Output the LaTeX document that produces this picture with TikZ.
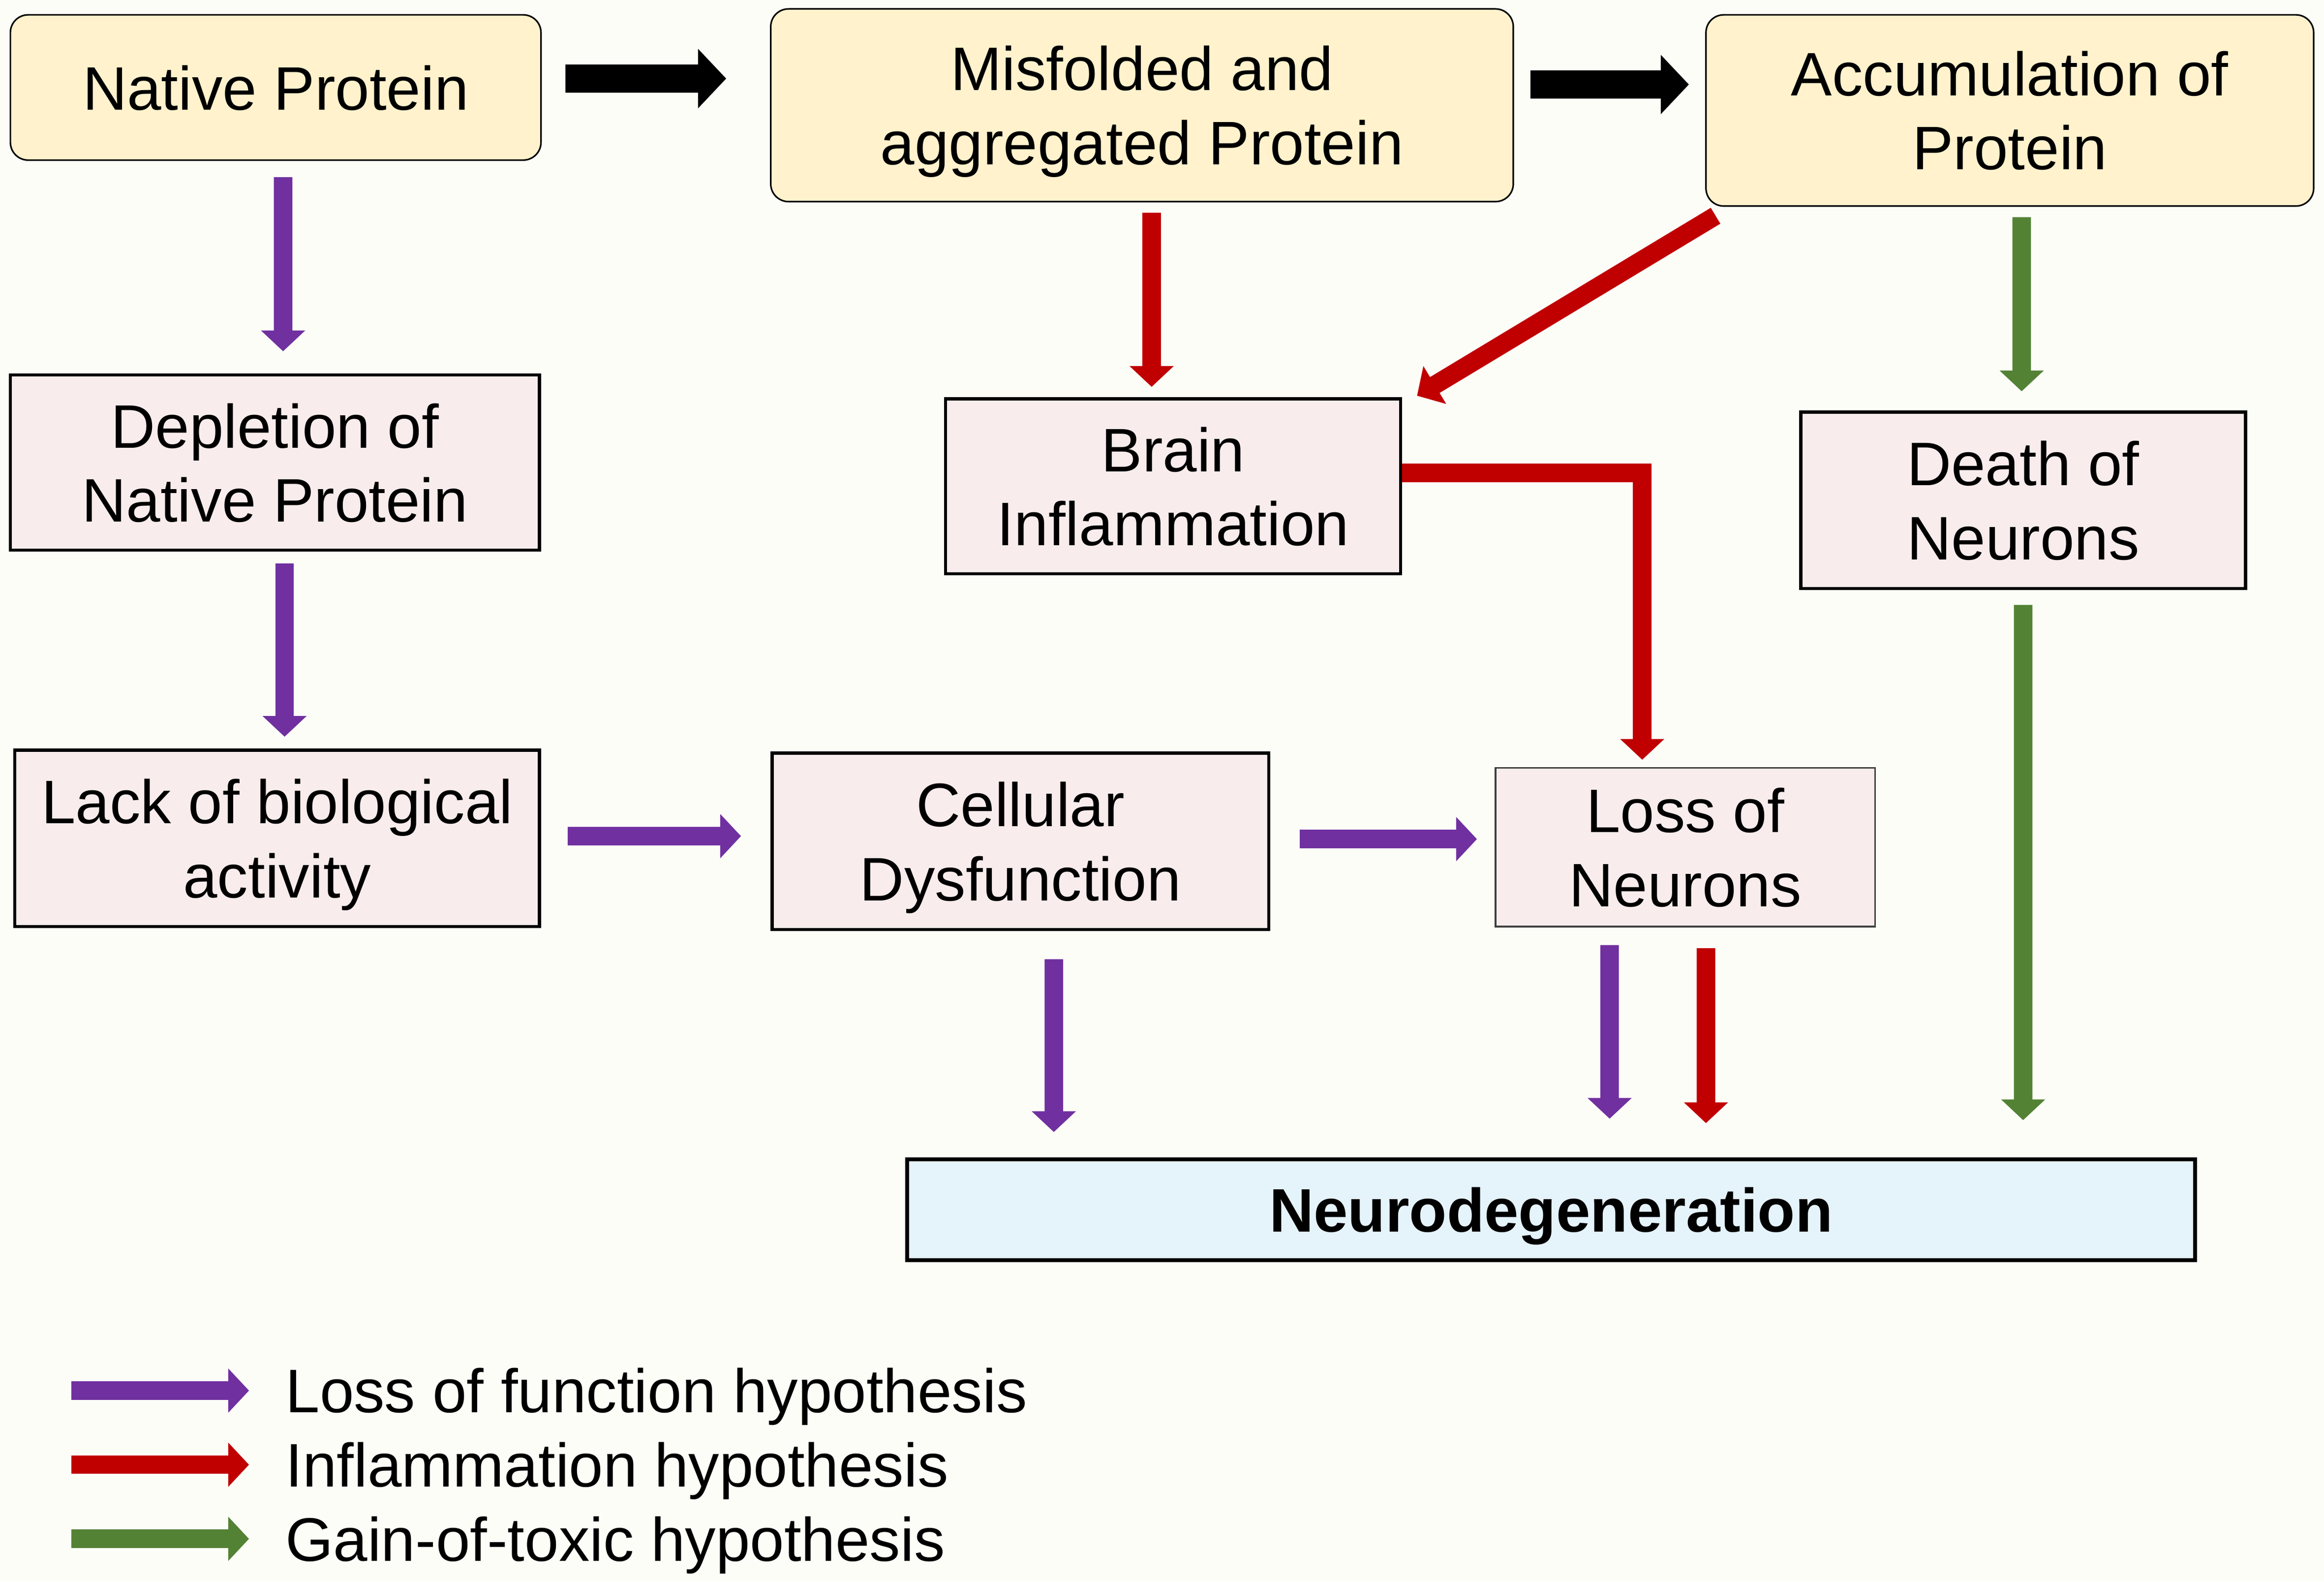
\documentclass[tikz,border=0pt]{standalone}
\usepackage{fontspec}
\setmainfont{Liberation Sans}
\usetikzlibrary{arrows.meta}
\definecolor{bgcol}{HTML}{FDFDF8}
\definecolor{creamcol}{HTML}{FFF2CC}
\definecolor{pinkcol}{HTML}{F9ECEC}
\definecolor{bluecol}{HTML}{E5F3FB}
\definecolor{lossfncol}{HTML}{7030A0}
\definecolor{inflamcol}{HTML}{C00000}
\definecolor{toxiccol}{HTML}{548235}

\begin{document}
\begin{tikzpicture}[>={Triangle[width=0.29cm,length=0.14cm]},
		every node/.style={font=\fontsize{11.8}{14.2}\selectfont, align=center, inner sep=0pt, text depth=0pt},
		protein/.style={draw, line width=0.3pt, fill=creamcol, rounded corners=0.12cm},
		effect/.style={draw, line width=0.6pt, fill=pinkcol},
		main arrow/.style={-{Triangle[width=0.39cm,length=0.19cm]}, black, line width=0.19cm},
		lossfn arrow/.style={->, lossfncol, line width=0.125cm},
		inflam arrow/.style={->, inflamcol, line width=0.125cm},
		toxic arrow/.style={->, toxiccol, line width=0.125cm},
		legend/.style={anchor=west, text height=8.45pt, text depth=0pt}]

				\fill[bgcol] (0,0) rectangle (15.68,-10.668);
				\useasboundingbox (0,0) rectangle (15.68,-10.668);

				% protein states
				\node[protein, minimum width=3.58cm, minimum height=0.98cm] (native)
					at (1.86,-0.59) {Native Protein};
				\node[protein, minimum width=5.01cm, minimum height=1.30cm] (misfolded)
					at (7.705,-0.71) {Misfolded and\\aggregated Protein};
				\node[protein, minimum width=4.10cm, minimum height=1.29cm] (accum)
					at (13.56,-0.745) {Accumulation of\\Protein};

				% consequences
				\node[effect, minimum width=3.57cm, minimum height=1.18cm] (depletion)
					at (1.855,-3.12) {Depletion of\\Native Protein};
				\node[effect, minimum width=3.07cm, minimum height=1.18cm] (brain)
					at (7.915,-3.28) {Brain\\Inflammation};
				\node[effect, minimum width=3.00cm, minimum height=1.19cm] (death)
					at (13.65,-3.375) {Death of\\Neurons};
				\node[effect, minimum width=3.54cm, minimum height=1.19cm] (lack)
					at (1.87,-5.655) {Lack of biological\\activity};
				\node[effect, minimum width=3.35cm, minimum height=1.19cm] (cellular)
					at (6.885,-5.675) {Cellular\\Dysfunction};
				\node[effect, draw=black!75, line width=0.3pt, minimum width=2.56cm, minimum height=1.07cm] (loss)
					at (11.37,-5.715) {Loss of\\Neurons};
				\node[draw, line width=0.8pt, fill=bluecol, minimum width=8.69cm, minimum height=0.68cm,
					font=\fontsize{11.8}{14.2}\selectfont\bfseries] (neuro)
					at (10.465,-8.16) {Neurodegeneration};

				% black arrows
				\draw[main arrow] ([xshift=0.16cm,yshift=0.06cm]native.east)
						-- ([xshift=-0.295cm,yshift=0.18cm]misfolded.west);
				\draw[main arrow] ([xshift=0.11cm,yshift=0.14cm]misfolded.east)
						-- ([xshift=-0.11cm,yshift=0.175cm]accum.west);

				% loss of function
				\draw[lossfn arrow] ([xshift=0.05cm,yshift=-0.11cm]native.south)
						-- ([xshift=0.055cm,yshift=0.15cm]depletion.north);
				\draw[lossfn arrow] ([xshift=0.065cm,yshift=-0.08cm]depletion.south)
						-- ([xshift=0.05cm,yshift=0.08cm]lack.north);
				\draw[lossfn arrow] ([xshift=0.18cm,yshift=0.015cm]lack.east)
						-- ([xshift=-0.20cm,yshift=0.035cm]cellular.west);
				\draw[lossfn arrow] ([xshift=0.20cm,yshift=0.015cm]cellular.east)
						-- ([xshift=-0.12cm,yshift=0.055cm]loss.west);
				\draw[lossfn arrow] ([xshift=0.225cm,yshift=-0.19cm]cellular.south)
						-- ([xshift=-3.355cm,yshift=0.17cm]neuro.north);
				\draw[lossfn arrow] ([xshift=-0.51cm,yshift=-0.12cm]loss.south)
						-- ([xshift=0.395cm,yshift=0.26cm]neuro.north);

				% inflammation
				\draw[inflam arrow] ([xshift=0.065cm,yshift=-0.07cm]misfolded.south)
						-- ([xshift=-0.145cm,yshift=0.07cm]brain.north);
				\draw[inflam arrow] ([xshift=0.07cm,yshift=-0.06cm]accum.south west)
						-- ([xshift=0.10cm,yshift=0.01cm]brain.north east);
				\draw[inflam arrow] ([yshift=0.09cm]brain.east)
						-| ([xshift=-0.29cm,yshift=0.05cm]loss.north);
				\draw[inflam arrow] ([xshift=0.14cm,yshift=-0.14cm]loss.south)
						-- ([xshift=1.045cm,yshift=0.23cm]neuro.north);

				% gain of toxic function
				\draw[toxic arrow] ([xshift=0.08cm,yshift=-0.07cm]accum.south)
						-- ([xshift=-0.01cm,yshift=0.13cm]death.north);
				\draw[toxic arrow] ([yshift=-0.10cm]death.south)
						-- ([xshift=3.185cm,yshift=0.25cm]neuro.north);

				% legend
				\node[legend] (lglossfn) at (1.92,-9.38) {Loss of function hypothesis};
				\node[legend] (lginflam) at (1.92,-9.88) {Inflammation hypothesis};
				\node[legend] (lgtoxic) at (1.92,-10.38) {Gain-of-toxic hypothesis};
				\coordinate (lglossfn tail) at (0.48,-9.38);
				\coordinate (lginflam tail) at (0.48,-9.88);
				\coordinate (lgtoxic tail) at (0.48,-10.38);
				\draw[lossfn arrow] (lglossfn tail) -- ([xshift=-0.24cm]lglossfn.west);
				\draw[inflam arrow] (lginflam tail) -- ([xshift=-0.24cm]lginflam.west);
				\draw[toxic arrow] (lgtoxic tail) -- ([xshift=-0.24cm]lgtoxic.west);
			\end{tikzpicture}
\end{document}
